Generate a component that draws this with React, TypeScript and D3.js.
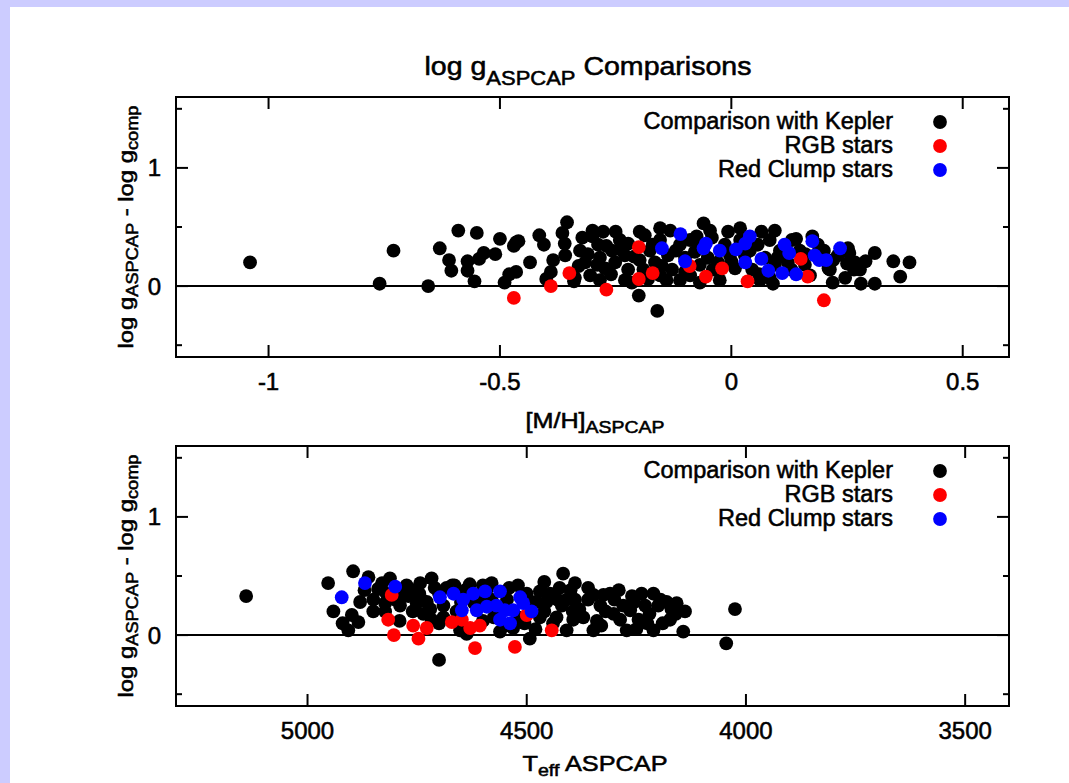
import React from 'react';
import * as d3 from 'd3';

// ---------- data ----------
const mhDomain: [number, number] = [-1.2, 0.6];
const teffDomain: [number, number] = [5300, 3400];
const deltaDomain: [number, number] = [-0.6, 1.6];

const mhTicks = [-1, -0.5, 0, 0.5];
const mhTickLabels = ['-1', '-0.5', '0', '0.5'];
const teffTicks = [5000, 4500, 4000, 3500];
const teffTickLabels = ['5000', '4500', '4000', '3500'];
const yMajorTicks = [0, 1];
const yMajorLabels = ['0', '1'];
const yMinorTicks = [-0.5, 0.5, 1.5];

const legendLabels = ['Comparison with Kepler', 'RGB stars', 'Red Clump stars'];
const seriesColors = ['#000000', '#ff0000', '#0000ff'];

// top panel: [M/H], delta log g
const keplerMH: [number, number][] = [
  [-1.04, 0.2], [-0.73, 0.3], [-0.76, 0.02], [-0.655, 0.0], [-0.59, 0.47], [-0.55, 0.45],
  [-0.63, 0.32], [-0.61, 0.22], [-0.605, 0.13], [-0.57, 0.21], [-0.57, 0.13], [-0.555, 0.04],
  [-0.535, 0.28], [-0.545, 0.23], [-0.51, 0.27], [-0.5, 0.4], [-0.465, 0.37], [-0.46, 0.38],
  [-0.47, 0.34], [-0.48, 0.1], [-0.465, 0.12], [-0.49, 0.03], [-0.435, 0.2], [-0.415, 0.43],
  [-0.405, 0.35], [-0.365, 0.45], [-0.355, 0.54], [-0.36, 0.36], [-0.385, 0.22], [-0.39, 0.12],
  [-0.4, 0.06], [-0.34, 0.04], [-0.3, 0.47], [-0.3, 0.42], [-0.25, 0.46],
  [-0.2, -0.08], [-0.16, -0.21], [-0.14, 0.05], [-0.06, 0.53], [-0.075, 0.42], [0.065, 0.46],
  [0.09, 0.02], [0.14, 0.4], [0.175, 0.42], [0.255, 0.28], [0.31, 0.28], [0.29, 0.21],
  [0.265, 0.14], [0.28, 0.02], [0.31, 0.02], [0.35, 0.21], [0.385, 0.2], [0.365, 0.08],
  [0.21, 0.15], [0.25, 0.19],
  [-0.327, 0.3], [-0.316, 0.2], [-0.305, 0.09], [-0.288, 0.35], [-0.284, 0.24], [-0.273, 0.15],
  [-0.258, 0.3], [-0.251, 0.2], [-0.241, 0.39], [-0.23, 0.26], [-0.223, 0.14], [-0.215, 0.03],
  [-0.198, 0.22], [-0.187, 0.43], [-0.176, 0.3], [-0.165, 0.2], [-0.154, 0.39], [-0.137, 0.26],
  [-0.128, 0.14], [-0.111, 0.35], [-0.1, 0.24], [-0.089, 0.39], [-0.079, 0.29], [-0.068, 0.18],
  [-0.051, 0.24], [-0.042, 0.41], [-0.029, 0.2], [-0.014, 0.35], [-0.003, 0.26], [0.008, 0.15],
  [0.019, 0.39], [0.029, 0.26], [0.045, 0.14], [0.057, 0.35], [0.073, 0.24], [0.083, 0.39],
  [0.094, 0.18], [0.105, 0.3], [0.122, 0.2], [0.131, 0.39], [0.148, 0.3], [0.159, 0.18],
  [0.17, 0.09], [0.187, 0.35], [0.213, 0.14], [0.23, 0.26], [0.246, 0.07], [0.267, 0.2],
  [0.278, 0.14], [0.252, 0.32], [0.219, 0.03], [0.083, 0.07], [0.062, 0.05], [-0.025, 0.05],
  [-0.068, 0.03], [-0.111, 0.05], [-0.154, 0.09], [-0.23, 0.05], [-0.284, 0.05], [-0.338, 0.07],
  [-0.359, 0.26], [-0.322, 0.41], [-0.277, 0.46], [-0.198, 0.46], [-0.154, 0.49], [-0.007, 0.46],
  [0.094, 0.47], [-0.046, 0.47], [0.019, 0.49], [-0.223, 0.36], [-0.132, 0.47], [-0.089, 0.09],
  [-0.31, 0.27], [-0.29, 0.18], [-0.26, 0.1], [-0.24, 0.31], [-0.21, 0.25], [-0.19, 0.14],
  [-0.17, 0.35], [-0.15, 0.17], [-0.12, 0.3], [-0.1, 0.12], [-0.07, 0.34], [-0.04, 0.14],
  [0.0, 0.21], [0.04, 0.3], [0.06, 0.1], [0.1, 0.24], [0.13, 0.14], [0.16, 0.27],
  [0.2, 0.3], [0.22, 0.22], [-0.33, 0.17], [-0.27, 0.34], [-0.18, 0.06],
];
const rgbMH: [number, number][] = [
  [-0.47, -0.1], [-0.39, 0.0], [-0.35, 0.11], [-0.27, -0.03], [-0.2, 0.33], [-0.2, 0.06],
  [-0.17, 0.11], [-0.09, 0.17], [-0.055, 0.08], [-0.02, 0.15], [0.035, 0.04], [0.15, 0.23],
  [0.165, 0.08], [0.2, -0.12],
];
const clumpMH: [number, number][] = [
  [-0.15, 0.32], [-0.11, 0.44], [-0.1, 0.21], [-0.06, 0.32], [-0.055, 0.36], [-0.025, 0.3],
  [0.01, 0.31], [0.03, 0.36], [0.04, 0.42], [0.03, 0.2], [0.065, 0.23], [0.08, 0.13],
  [0.11, 0.11], [0.115, 0.35], [0.125, 0.28], [0.14, 0.1], [0.175, 0.38], [0.18, 0.26],
  [0.19, 0.22], [0.205, 0.22], [0.235, 0.32],
];

// bottom panel: Teff, delta log g
const keplerTeff: [number, number][] = [
  [5140, 0.33], [4045, -0.07], [4025, 0.22], [4700, -0.21],
  [4953, 0.44], [4896, 0.54], [4941, 0.2], [4907, 0.04], [4899, 0.17], [4884, 0.11],
  [4861, 0.49], [4839, 0.39], [4823, 0.27], [4823, 0.2], [4812, 0.48], [4789, 0.25],
  [4774, 0.42], [4743, 0.44], [4717, 0.48], [4728, 0.28], [4751, 0.27], [4736, 0.18],
  [4717, 0.13], [4683, 0.4], [4665, 0.42], [4652, 0.04], [4637, 0.01], [4591, 0.39],
  [4580, 0.44], [4561, 0.03], [4531, 0.06], [4493, -0.03], [4470, 0.37], [4447, 0.35],
  [4417, 0.52], [4390, 0.44], [4409, 0.3], [4390, 0.3], [4432, 0.15], [4394, 0.13],
  [4371, 0.15], [4409, 0.04], [4348, 0.34], [4325, 0.34], [4310, 0.35], [4332, 0.25],
  [4302, 0.18], [4348, 0.04], [4287, 0.13], [4264, 0.21], [4238, 0.35], [4211, 0.35],
  [4230, 0.25], [4200, 0.25], [4181, 0.28], [4158, 0.27], [4139, 0.2], [4173, 0.13],
  [4211, 0.04], [4143, 0.03], [4245, 0.13], [4272, 0.04],
  [4780, 0.35], [4760, 0.38], [4740, 0.3], [4700, 0.35], [4690, 0.25], [4670, 0.42],
  [4660, 0.2], [4640, 0.38], [4620, 0.27], [4600, 0.42], [4580, 0.3], [4560, 0.2],
  [4540, 0.4], [4520, 0.15], [4500, 0.35], [4480, 0.28], [4460, 0.2], [4440, 0.1],
  [4420, 0.25], [4400, 0.38], [4380, 0.22], [4360, 0.3], [4340, 0.12], [4320, 0.2],
  [4300, 0.3], [4280, 0.25], [4260, 0.33], [4250, 0.05], [4220, 0.18], [4190, 0.1],
  [4170, 0.22], [4480, 0.05], [4550, 0.08], [4600, 0.12], [4700, 0.1], [4760, 0.2],
  [4720, 0.22], [4820, 0.35], [4850, 0.3], [4870, 0.38], [4920, 0.1], [4460, 0.45],
  [4430, 0.3], [4520, 0.42],
  [4880, 0.28], [4850, 0.2], [4830, 0.44], [4800, 0.3], [4790, 0.12], [4770, 0.33],
  [4745, 0.35], [4710, 0.4], [4690, 0.15], [4650, 0.28], [4630, 0.43], [4610, 0.3],
  [4575, 0.15], [4545, 0.3], [4505, 0.1], [4470, 0.15], [4455, 0.28], [4425, 0.4],
  [4395, 0.2], [4360, 0.4], [4330, 0.08], [4290, 0.38], [4255, 0.28], [4225, 0.1],
  [4195, 0.3], [4160, 0.18],
];
const rgbTeff: [number, number][] = [
  [4808, 0.34], [4816, 0.13], [4803, 0.0], [4759, 0.08], [4728, 0.06], [4747, -0.03],
  [4671, 0.11], [4648, 0.13], [4629, 0.06], [4607, 0.08], [4618, -0.11], [4527, -0.1],
  [4500, 0.17], [4443, 0.04],
];
const clumpTeff: [number, number][] = [
  [4922, 0.32], [4869, 0.44], [4800, 0.41], [4698, 0.32], [4667, 0.35], [4645, 0.3],
  [4622, 0.35], [4595, 0.37], [4561, 0.37], [4648, 0.21], [4614, 0.21], [4591, 0.24],
  [4569, 0.25], [4550, 0.21], [4531, 0.21], [4515, 0.32], [4508, 0.27], [4489, 0.2],
  [4561, 0.13], [4538, 0.1],
];

// ---------- drawing ----------
const W = 1069;
const H = 783;
const FONT = "'Liberation Sans', Arial, Helvetica, sans-serif";
const LEFT = 176;
const RIGHT = 1009;
const TXT = { fill: '#000', stroke: '#000', strokeWidth: 0.55, fontFamily: FONT };

type PanelProps = {
  id: string;
  top: number;
  bottom: number;
  xDomain: [number, number];
  xTicks: number[];
  xTickLabels: string[];
  series: [number, number][][];
  xLabel: React.ReactNode;
  xLabelLength: number;
  xLabelY: number;
};

function Panel({ id, top, bottom, xDomain, xTicks, xTickLabels, series, xLabel, xLabelLength, xLabelY }: PanelProps) {
  const x = d3.scaleLinear().domain(xDomain).range([LEFT, RIGHT]);
  const y = d3.scaleLinear().domain(deltaDomain).range([bottom, top]);
  const major = 12;
  const minor = 6;
  const cy = (top + bottom) / 2;
  return (
    <g>
      <defs>
        <clipPath id={`clip-${id}`}>
          <rect x={LEFT} y={top} width={RIGHT - LEFT} height={bottom - top} />
        </clipPath>
      </defs>
      <line x1={LEFT} x2={RIGHT} y1={y(0)} y2={y(0)} stroke="#000" strokeWidth={2} />
      <g clipPath={`url(#clip-${id})`}>
        {series.map((pts, si) =>
          pts.map((p, i) => (
            <circle key={`${si}-${i}`} cx={x(p[0])} cy={y(p[1])} r={6.9} fill={seriesColors[si]} />
          ))
        )}
      </g>
      <rect x={LEFT} y={top} width={RIGHT - LEFT} height={bottom - top} fill="none" stroke="#000" strokeWidth={2} />
      {xTicks.map((t, i) => (
        <g key={`xt${i}`}>
          <line x1={x(t)} x2={x(t)} y1={bottom} y2={bottom - major} stroke="#000" strokeWidth={2} />
          <line x1={x(t)} x2={x(t)} y1={top} y2={top + major} stroke="#000" strokeWidth={2} />
          <text x={x(t)} y={bottom + 33} textAnchor="middle" fontSize={24} {...TXT}>
            {xTickLabels[i]}
          </text>
        </g>
      ))}
      {yMajorTicks.map((t, i) => (
        <g key={`yt${i}`}>
          <line x1={LEFT} x2={LEFT + major} y1={y(t)} y2={y(t)} stroke="#000" strokeWidth={2} />
          <line x1={RIGHT} x2={RIGHT - major} y1={y(t)} y2={y(t)} stroke="#000" strokeWidth={2} />
          <text x={161} y={y(t) + 8.5} textAnchor="end" fontSize={24} {...TXT}>
            {yMajorLabels[i]}
          </text>
        </g>
      ))}
      {yMinorTicks.map((t, i) => (
        <g key={`ym${i}`}>
          <line x1={LEFT} x2={LEFT + minor} y1={y(t)} y2={y(t)} stroke="#000" strokeWidth={2} />
          <line x1={RIGHT} x2={RIGHT - minor} y1={y(t)} y2={y(t)} stroke="#000" strokeWidth={2} />
        </g>
      ))}
      {legendLabels.map((l, i) => (
        <g key={`lg${i}`}>
          <text x={893} y={top + 32 + i * 24} textAnchor="end" fontSize={23.5} {...TXT}>
            {l}
          </text>
          <circle cx={940} cy={top + 25 + i * 24} r={6.9} fill={seriesColors[i]} />
        </g>
      ))}
      <text
        transform={`translate(133,${cy}) rotate(-90)`}
        textAnchor="middle"
        fontSize={21}
        {...TXT}
        textLength={243}
        lengthAdjust="spacingAndGlyphs"
      >
        {'log g'}
        <tspan dy={5} fontSize={16}>ASPCAP</tspan>
        <tspan dy={-5}>{' - log g'}</tspan>
        <tspan dy={5} fontSize={16}>comp</tspan>
      </text>
      <text
        x={595}
        y={xLabelY}
        textAnchor="middle"
        fontSize={22}
        {...TXT}
        textLength={xLabelLength}
        lengthAdjust="spacingAndGlyphs"
      >
        {xLabel}
      </text>
    </g>
  );
}

export default function App() {
  return (
    <svg width={W} height={H} style={{ position: 'absolute', left: 0, top: 0, display: 'block' }}>
      <rect x={0} y={0} width={W} height={H} fill="#ccccff" />
      <rect x={10} y={7} width={W - 10} height={H - 7} fill="#ffffff" />
      <text
        x={588}
        y={75}
        textAnchor="middle"
        fontSize={26}
        {...TXT}
        textLength={327}
        lengthAdjust="spacingAndGlyphs"
      >
        {'log g'}
        <tspan dy={10} fontSize={20}>ASPCAP</tspan>
        <tspan dy={-10}>{' Comparisons'}</tspan>
      </text>
      <Panel
        id="mh"
        top={97}
        bottom={357}
        xDomain={mhDomain}
        xTicks={mhTicks}
        xTickLabels={mhTickLabels}
        series={[keplerMH, rgbMH, clumpMH]}
        xLabel={['[M/H]', <tspan key="s" dy={5} fontSize={17}>ASPCAP</tspan>]}
        xLabelLength={139}
        xLabelY={428}
      />
      <Panel
        id="teff"
        top={446}
        bottom={706}
        xDomain={teffDomain}
        xTicks={teffTicks}
        xTickLabels={teffTickLabels}
        series={[keplerTeff, rgbTeff, clumpTeff]}
        xLabel={[
          'T',
          <tspan key="s" dy={5} fontSize={17}>eff</tspan>,
          <tspan key="r" dy={-5}>{' ASPCAP'}</tspan>,
        ]}
        xLabelLength={145}
        xLabelY={771}
      />
    </svg>
  );
}
